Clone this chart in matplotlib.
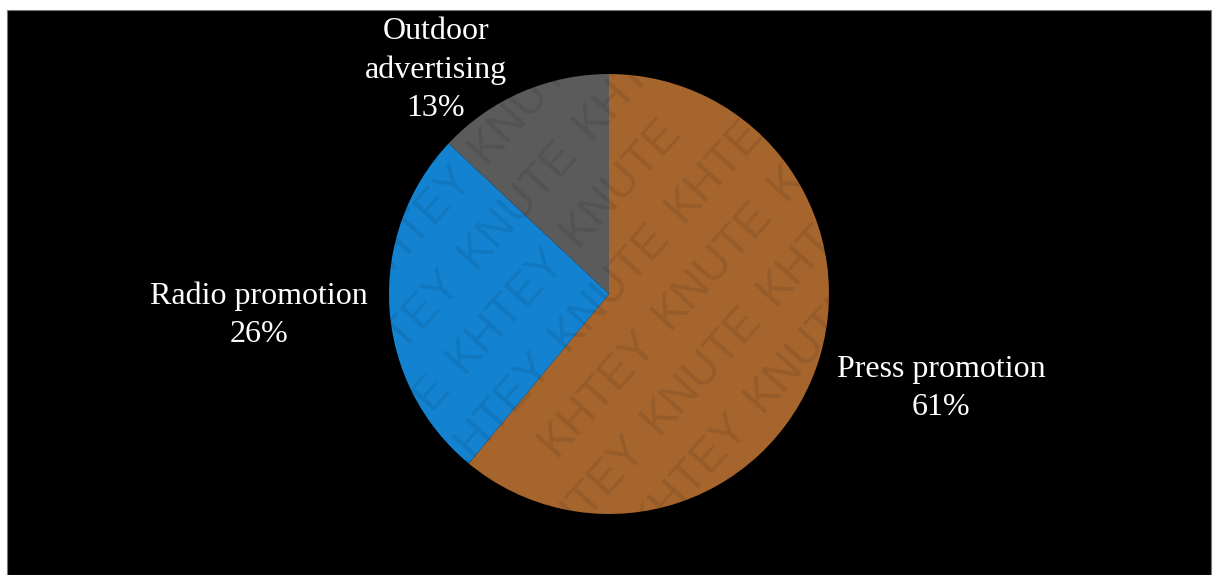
import matplotlib.pyplot as plt
from matplotlib.patches import Rectangle
import numpy as np

# advertising budget split
labels = ['Press promotion', 'Radio promotion', 'Outdoor\nadvertising']
shares = [61, 26, 13]
colors = ['#A5652D', '#1383D1', '#5B5B5B']

W, H = 1215, 575
plt.rcParams['font.family'] = ['Liberation Serif', 'DejaVu Serif']

fig = plt.figure(figsize=(W / 100, H / 100), dpi=100, facecolor='white')
ax = fig.add_axes([0, 0, 1, 1])

# black panel behind the chart
ax.add_patch(Rectangle((7, 0), 1204, H - 10, facecolor='black',
                       edgecolor='#7a7a7a', linewidth=0.8, zorder=0))

ax.pie(shares, colors=colors, startangle=90, counterclock=False,
       center=(609, H - 294), radius=220,
       wedgeprops=dict(linewidth=0), frame=True)

# label anchors: x centre, baseline of last line (pixels from top)
label_pos = [(941, 415), (259, 342), (436, 116)]
for lab, val, (x, y) in zip(labels, shares, label_pos):
    ax.text(x, H - y, f'{lab}\n{val}%', color='white', fontsize=23,
            ha='center', va='baseline', multialignment='center',
            linespacing=1.42, zorder=5)

# faint diagonal watermark, only whole words inside the figure
ang = 48
ux, uy = np.cos(np.radians(ang)), np.sin(np.radians(ang))
px, py = -uy, ux
words = ['KNUTE', 'KHTEY']
step, gap = 172, 62
half_len, half_h = 78, 18
for k in range(-16, 17):
    shift = (k % 2) * step / 2
    for j in range(-12, 13):
        t = j * step + shift
        cx = 609 + ux * t + px * k * gap
        cy = H / 2 + uy * t + py * k * gap
        corners = [(cx + sa * ux * half_len + sb * px * half_h,
                    cy + sa * uy * half_len + sb * py * half_h)
                   for sa in (-1, 1) for sb in (-1, 1)]
        if not all(2 < x < W - 2 and 2 < y < H - 2 for x, y in corners):
            continue
        ax.text(cx, cy, words[j % 2], rotation=ang, rotation_mode='anchor',
                ha='center', va='center', fontsize=33,
                family='Liberation Sans', color='black',
                alpha=0.09, zorder=4)

ax.set_xlim(0, W)
ax.set_ylim(0, H)
ax.axis('off')

fig.savefig('out.png', dpi=100, facecolor='white')
